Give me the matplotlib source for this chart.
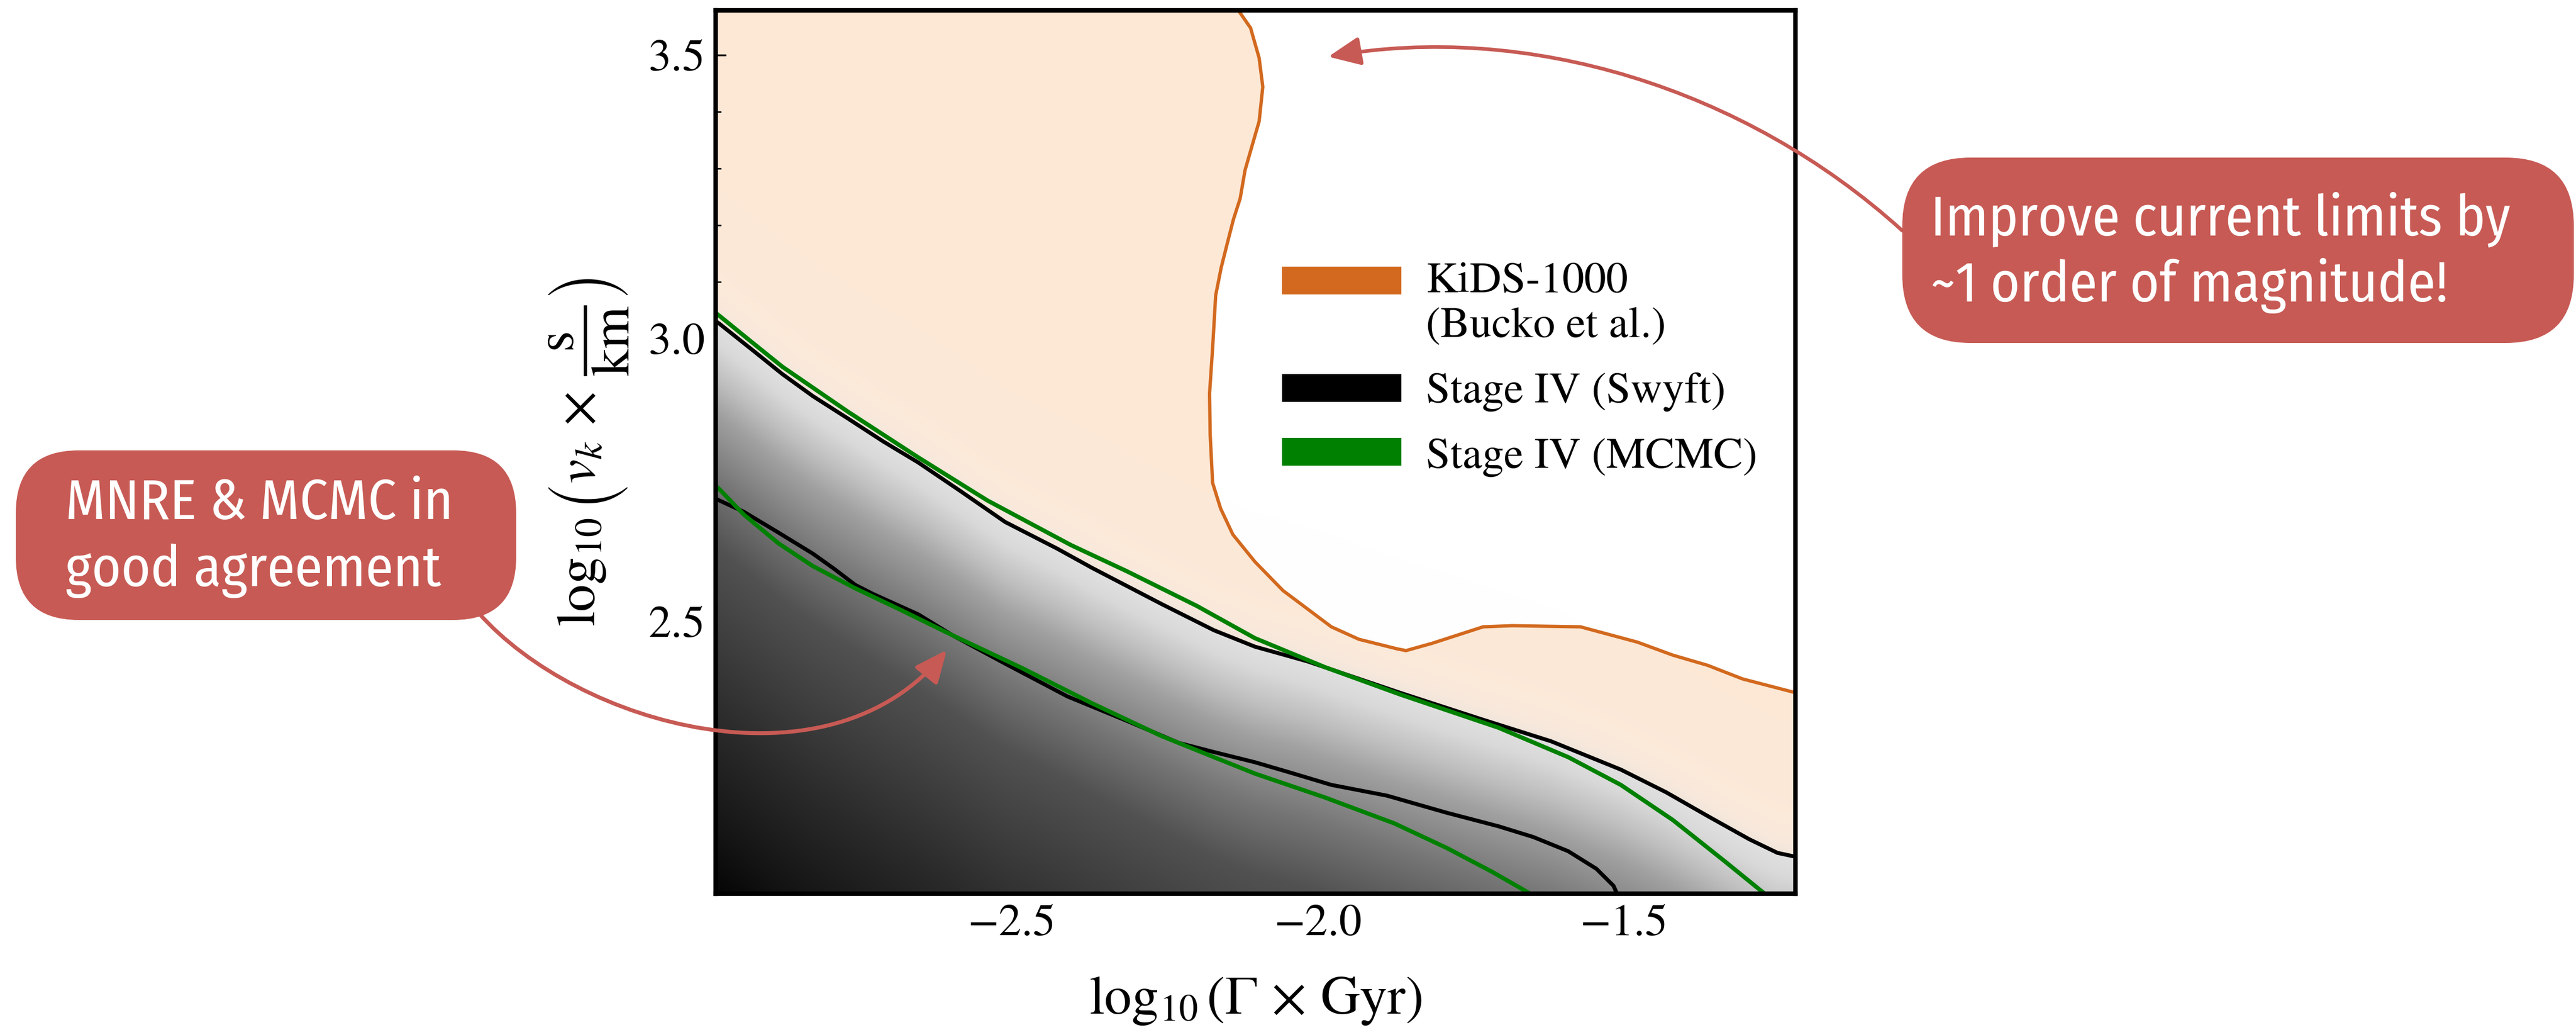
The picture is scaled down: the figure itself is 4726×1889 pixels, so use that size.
import numpy as np
import matplotlib
matplotlib.use("Agg")
import matplotlib.pyplot as plt
from matplotlib import font_manager
from matplotlib.patches import Rectangle, FancyBboxPatch, FancyArrowPatch
from matplotlib.path import Path

# ---------------- data ----------------
xlim = (-2.984, -1.22)
ylim = (2.02, 3.579)

kids_x = [-2.137, -2.110, -2.096, -2.090, -2.096, -2.103, -2.119, -2.127, -2.138, -2.148,
          -2.158, -2.167, -2.172, -2.177, -2.176, -2.172, -2.159, -2.139, -2.103, -2.057,
          -1.978, -1.933, -1.870, -1.856, -1.813, -1.730, -1.682, -1.571, -1.478, -1.420,
          -1.363, -1.306, -1.217, -1.20]
kids_y = [3.59, 3.548, 3.495, 3.444, 3.383, 3.357, 3.297, 3.247, 3.210, 3.168,
          3.125, 3.076, 2.983, 2.903, 2.830, 2.745, 2.700, 2.654, 2.606, 2.555,
          2.491, 2.469, 2.452, 2.449, 2.462, 2.491, 2.493, 2.491, 2.464, 2.441,
          2.423, 2.399, 2.374, 2.369]

swyft_outer_x = [-2.99, -2.978, -2.921, -2.875, -2.825, -2.767, -2.710, -2.653, -2.586, -2.511,
                 -2.426, -2.369, -2.255, -2.170, -2.103, -2.017, -1.864, -1.733, -1.619, -1.505,
                 -1.431, -1.363, -1.295, -1.249, -1.21]
swyft_outer_y = [3.035, 3.026, 2.977, 2.937, 2.898, 2.858, 2.818, 2.781, 2.732, 2.676,
                 2.629, 2.595, 2.531, 2.485, 2.456, 2.430, 2.374, 2.328, 2.289, 2.239,
                 2.199, 2.157, 2.116, 2.092, 2.083]

swyft_inner_x = [-2.99, -2.978, -2.938, -2.881, -2.825, -2.790, -2.756, -2.727, -2.653, -2.597,
                 -2.511, -2.409, -2.312, -2.227, -2.170, -2.103, -2.046, -1.978, -1.887, -1.790,
                 -1.705, -1.648, -1.591, -1.545, -1.517, -1.505]
swyft_inner_y = [2.72, 2.714, 2.694, 2.657, 2.620, 2.593, 2.565, 2.549, 2.513, 2.476,
                 2.426, 2.368, 2.325, 2.286, 2.270, 2.252, 2.234, 2.212, 2.193, 2.163,
                 2.139, 2.120, 2.095, 2.064, 2.034, 2.005]

mcmc_outer_x = [-2.99, -2.978, -2.921, -2.875, -2.767, -2.653, -2.540, -2.403, -2.312, -2.198,
                -2.103, -1.989, -1.864, -1.705, -1.591, -1.505, -1.420, -1.335, -1.270, -1.255]
mcmc_outer_y = [3.05, 3.040, 2.990, 2.950, 2.870, 2.790, 2.714, 2.635, 2.589, 2.528,
                2.471, 2.420, 2.371, 2.313, 2.261, 2.212, 2.150, 2.077, 2.020, 2.005]

mcmc_inner_x = [-2.99, -2.978, -2.938, -2.881, -2.825, -2.756, -2.682, -2.597, -2.483, -2.369,
                -2.255, -2.170, -2.103, -1.989, -1.875, -1.790, -1.716, -1.653, -1.64]
mcmc_inner_y = [2.745, 2.734, 2.689, 2.638, 2.598, 2.559, 2.521, 2.476, 2.418, 2.356,
                2.298, 2.261, 2.232, 2.190, 2.144, 2.101, 2.059, 2.020, 2.01]

# shading profile of the posterior below the outer Swyft contour (distance -> grey level)
shade_d = [0.0, 0.04, 0.10, 0.16, 0.28, 0.40, 0.52, 0.70, 0.90, 1.05]
shade_g = [0.88, 0.85, 0.75, 0.63, 0.46, 0.32, 0.26, 0.17, 0.08, 0.0]

legend_labels = ["KiDS-1000", "(Bucko et al.)", "Stage IV (Swyft)", "Stage IV (MCMC)"]
xticks_major = [-2.5, -2.0, -1.5]
yticks_major = [2.5, 3.0, 3.5]

note_left = ["MNRE & MCMC in", "good agreement"]
note_right = ["Improve current limits by", "~1 order of magnitude!"]

# ---------------- style ----------------
plt.rcParams["font.family"] = ["STIXGeneral", "DejaVu Serif"]
plt.rcParams["mathtext.fontset"] = "stix"

names = {f.name for f in font_manager.fontManager.ttflist}
if "Fira Sans Condensed" in names:
    box_font, box_size = "Fira Sans Condensed", 37
elif "Fira Sans" in names:
    box_font, box_size = "Fira Sans", 33
elif "Roboto Condensed" in names:
    box_font, box_size = "Roboto Condensed", 36
else:
    box_font, box_size = "Lato", 32

KIDS = "#D2691E"
PEACH = "#FDE8D6"
NOTE = "#C75A54"

W, H, DPI = 4726, 1889, 200
fig = plt.figure(figsize=(W / DPI, H / DPI), dpi=DPI)
L, R, T, B = 1313, 3293.6, 19, 1639
ax = fig.add_axes([L / W, 1 - B / H, (R - L) / W, (B - T) / H])
ax.set_xlim(*xlim)
ax.set_ylim(*ylim)

# KiDS allowed region (fill under/left of contour)
fx = kids_x + [kids_x[-1], -3.1, -3.1, kids_x[0]]
fy = kids_y + [1.9, 1.9, 3.7, 3.7]
ax.fill(fx, fy, color=PEACH, lw=0, zorder=1)

# posterior shading
gx = np.linspace(xlim[0], xlim[1], 800)
gy = np.linspace(ylim[0], ylim[1], 700)
GX, GY = np.meshgrid(gx, gy)
d = np.interp(GX, swyft_outer_x, swyft_outer_y) - GY
dneg = np.minimum(d, 0)
grey = np.where(d >= 0, np.interp(d, shade_d, shade_g), 0.88 + 0.10 * (1 - np.exp(dneg / 0.05)))
alpha = np.where(d >= 0, 1.0, 0.45 * np.exp(dneg / 0.05))
rgba = np.dstack([grey, grey, grey, alpha])
ax.imshow(rgba, extent=[xlim[0], xlim[1], ylim[0], ylim[1]], origin="lower",
          aspect="auto", interpolation="bilinear", zorder=2)

# contours
ax.plot(kids_x, kids_y, color=KIDS, lw=2.2, zorder=4)
ax.plot(swyft_outer_x, swyft_outer_y, color="black", lw=2.6, zorder=4)
ax.plot(swyft_inner_x, swyft_inner_y, color="black", lw=2.6, zorder=4)
ax.plot(mcmc_outer_x, mcmc_outer_y, color="green", lw=2.8, zorder=5)
ax.plot(mcmc_inner_x, mcmc_inner_y, color="green", lw=2.8, zorder=5)

# axes styling
for s in ax.spines.values():
    s.set_linewidth(3.0)
    s.set_zorder(10)
ax.set_xticks(xticks_major)
ax.set_yticks(yticks_major)
ax.set_xticklabels(["\u2212%.1f" % abs(v) for v in xticks_major])
ax.set_yticklabels(["%.1f" % v for v in yticks_major])
ax.xaxis.set_minor_locator(matplotlib.ticker.MultipleLocator(0.1))
ax.yaxis.set_minor_locator(matplotlib.ticker.MultipleLocator(0.1))
ax.tick_params(which="both", direction="in", top=False, right=False, labelsize=30)
ax.tick_params(which="major", length=6.8, width=1.2, pad=7)
ax.tick_params(which="minor", length=3.6, width=1.0)
ax.set_xlabel(r"$\log_{10}(\Gamma\,\times\,\mathrm{Gyr})$", fontsize=36, labelpad=20)
ax.set_ylabel(r"$\log_{10}\left(v_k \,\times\, \dfrac{\mathrm{s}}{\mathrm{km}}\right)$",
              fontsize=36, labelpad=12)

# ---------------- legend & annotations (figure pixel coordinates) ----------------
ov = fig.add_axes([0, 0, 1, 1], zorder=30)
ov.set_xlim(0, W)
ov.set_ylim(H, 0)
ov.axis("off")
ov.patch.set_alpha(0)

# legend
for (top, col) in [(489, KIDS), (686, "black"), (803, "green")]:
    ov.add_patch(Rectangle((2352, top), 219, 51, fc=col, ec="none"))
for (base, txt) in zip([536, 619, 738, 858], legend_labels):
    ov.text(2616, base, txt, fontsize=29, va="baseline", ha="left")

# note boxes
ov.add_patch(FancyBboxPatch((29, 826), 918, 311, boxstyle="round,pad=0,rounding_size=115",
                            fc=NOTE, ec="none"))
ov.add_patch(FancyBboxPatch((3490, 289), 1232, 340, boxstyle="round,pad=0,rounding_size=125",
                            fc=NOTE, ec="none"))

ov.text(120, 952, note_left[0], color="white", fontsize=box_size, family=box_font, va="baseline")
ov.text(120, 1075, note_left[1], color="white", fontsize=box_size, family=box_font, va="baseline")
ov.text(3542, 431, note_right[0], color="white", fontsize=box_size, family=box_font, va="baseline")
ov.text(3542, 553, note_right[1], color="white", fontsize=box_size, family=box_font, va="baseline")

p1 = Path([(878, 1124), (1060, 1330), (1520, 1460), (1737, 1192)],
          [Path.MOVETO, Path.CURVE4, Path.CURVE4, Path.CURVE4])
ov.add_patch(FancyArrowPatch(path=p1, arrowstyle="-|>,head_length=18,head_width=8",
                             mutation_scale=1, lw=2.6, color=NOTE, shrinkA=0, shrinkB=0,
                             transform=ov.transData))
p2 = Path([(3490, 423), (3200, 160), (2800, 40), (2437, 104)],
          [Path.MOVETO, Path.CURVE4, Path.CURVE4, Path.CURVE4])
ov.add_patch(FancyArrowPatch(path=p2, arrowstyle="-|>,head_length=18,head_width=8",
                             mutation_scale=1, lw=2.4, color=NOTE, shrinkA=0, shrinkB=0,
                             transform=ov.transData))

fig.savefig("out.png", dpi=DPI)
